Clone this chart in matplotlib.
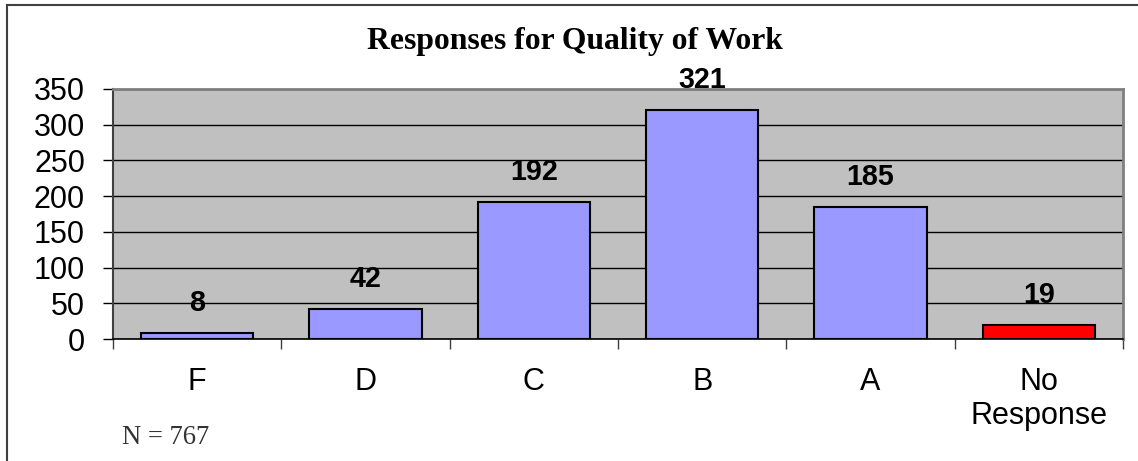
import matplotlib
matplotlib.use("Agg")
import matplotlib.pyplot as plt
from matplotlib.lines import Line2D
import numpy as np

categories = ["F", "D", "C", "B", "A", "No\nResponse"]
values = [8, 42, 192, 321, 185, 19]
bar_colors = ["#9999FF", "#9999FF", "#9999FF", "#9999FF", "#9999FF", "#FF0000"]
yticks = [0, 50, 100, 150, 200, 250, 300, 350]
title = "Responses for Quality of Work"
note = "N = 767"

W, H = 1138, 461
fig = plt.figure(figsize=(W / 100, H / 100), dpi=100)
fig.patch.set_facecolor("white")

ax = fig.add_axes([113 / W, 1 - 339 / H, (1123 - 113) / W, (339 - 89) / H])
ax.set_facecolor("#C0C0C0")

x = np.arange(len(categories))
ax.bar(x, values, width=0.666, color=bar_colors, edgecolor="black", linewidth=1.5, zorder=3)

for xi, v in zip(x, values):
    ax.annotate(str(v), (xi, v), xytext=(0, 21.6), textcoords="offset points",
                ha="center", va="center", fontsize=20.7, fontweight="bold",
                family="Liberation Sans", color="black", zorder=4)

ax.set_xlim(-0.5, len(categories) - 0.5)
ax.set_ylim(0, 350)
ax.set_yticks(yticks)
ax.set_yticklabels([str(t) for t in yticks], fontsize=22, family="Liberation Sans")
ax.tick_params(axis="y", length=7.2, width=1, pad=13, direction="out", color="black")

ax.set_xticks(x)
ax.set_xticklabels(categories, fontsize=22, family="Liberation Sans")
ax.tick_params(axis="x", which="major", length=0, pad=20)
ax.set_xticks(np.arange(-0.5, len(categories), 1.0), minor=True)
ax.tick_params(axis="x", which="minor", length=7.2, width=1, direction="out", color="#404040")

ax.yaxis.grid(True, color="black", linewidth=1)
ax.set_axisbelow(True)

ax.spines["left"].set_color("#404040")
ax.spines["left"].set_linewidth(1.5)
ax.spines["bottom"].set_color("black")
ax.spines["bottom"].set_linewidth(1.2)
ax.spines["top"].set_color("#808080")
ax.spines["top"].set_linewidth(2)
ax.spines["right"].set_color("#808080")
ax.spines["right"].set_linewidth(2)

fig.text(575 / W, 1 - 42 / H, title, ha="center", va="center", fontsize=22.8,
         fontweight="bold", family="Liberation Serif")
fig.text(122 / W, 1 - 437.5 / H, note, ha="left", va="center", fontsize=19.2,
         family="Liberation Serif", color="#333333")

fig.add_artist(Line2D([7 / W, 7 / W], [0, 1 - 5 / H], transform=fig.transFigure,
                      color="#404040", linewidth=1.5))
fig.add_artist(Line2D([7 / W, 1], [1 - 5 / H, 1 - 5 / H], transform=fig.transFigure,
                      color="#404040", linewidth=1.5))

fig.savefig("out.png", dpi=100)
